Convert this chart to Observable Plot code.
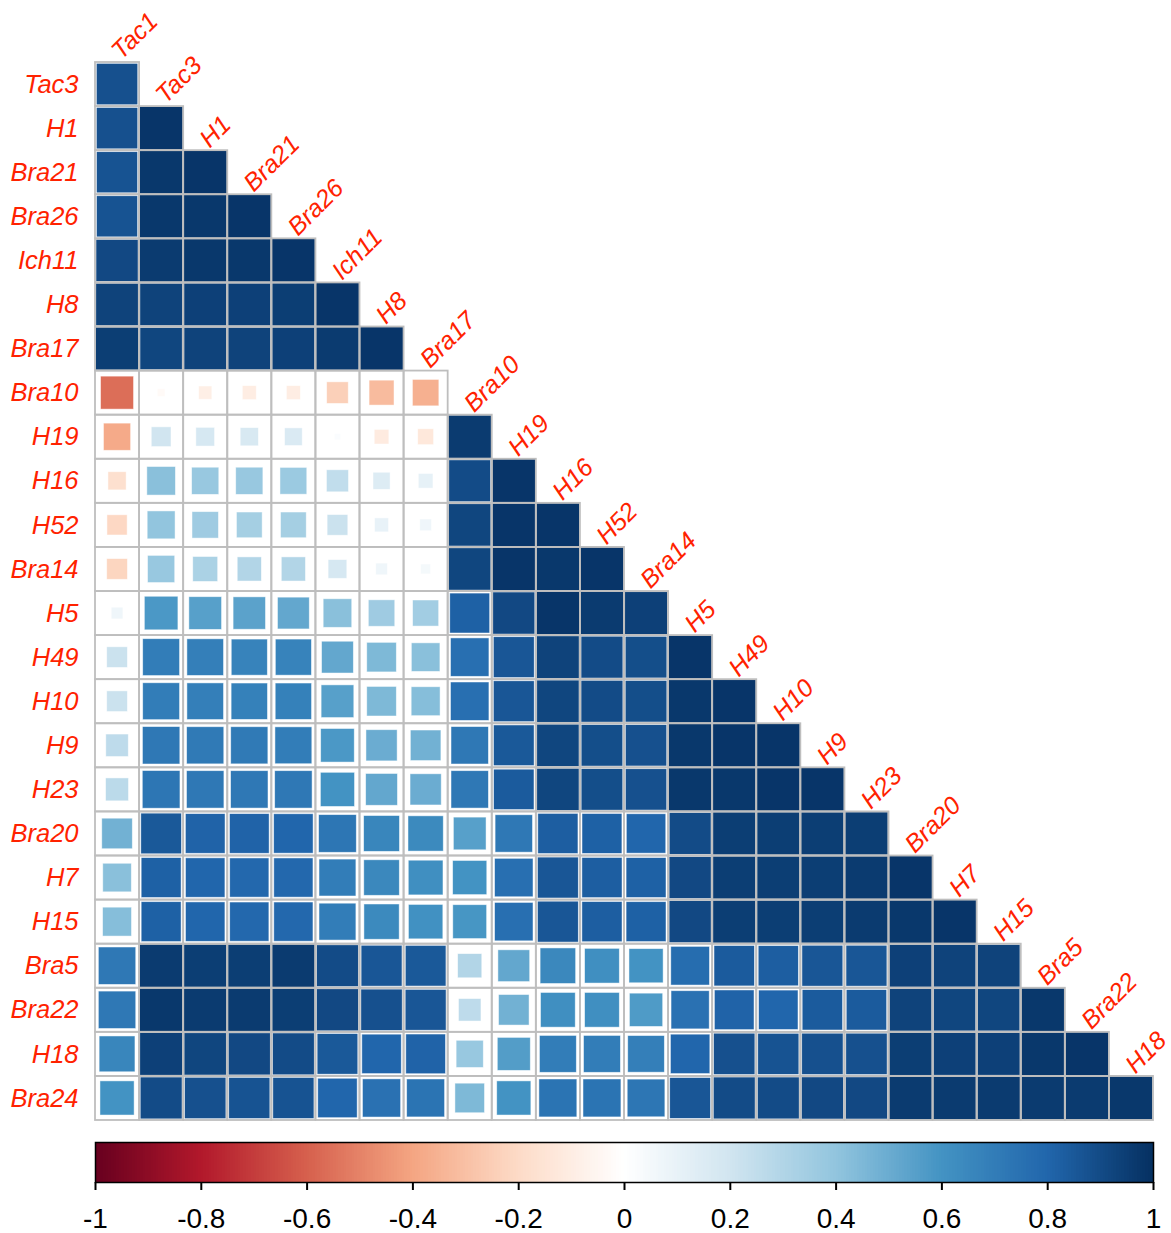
<!DOCTYPE html>
<html>
<head>
<meta charset="utf-8">
<script src="https://cdn.jsdelivr.net/npm/d3@7"></script>
<script src="https://cdn.jsdelivr.net/npm/@observablehq/plot@0.6"></script>
<style>
  html, body { margin: 0; padding: 0; background: #fff; }
  #chart { width: 1171px; }
  #chart svg { display: block; overflow: visible; }
</style>
</head>
<body>
<div id="chart"></div>
<script>
// Variables (order of the matrix)
const variables = ["Tac1","Tac3","H1","Bra21","Bra26","Ich11","H8","Bra17","Bra10","H19","H16","H52","Bra14","H5","H49","H10","H9","H23","Bra20","H7","H15","Bra5","Bra22","H18","Bra24"];

// Lower-triangle correlations: row i (variable i+1) vs columns 0..i
const corrRows = [
  [0.88],
  [0.88, 0.98],
  [0.87, 0.97, 0.98],
  [0.87, 0.97, 0.97, 0.98],
  [0.91, 0.96, 0.97, 0.97, 0.98],
  [0.93, 0.93, 0.94, 0.94, 0.95, 0.98],
  [0.95, 0.92, 0.93, 0.93, 0.94, 0.96, 0.98],
  [-0.56, -0.03, -0.09, -0.10, -0.10, -0.24, -0.32, -0.36],
  [-0.38, 0.20, 0.18, 0.17, 0.16, 0.02, -0.11, -0.13, 0.96],
  [-0.17, 0.42, 0.38, 0.38, 0.37, 0.25, 0.15, 0.11, 0.90, 0.98],
  [-0.21, 0.40, 0.36, 0.34, 0.34, 0.22, 0.10, 0.07, 0.92, 0.98, 0.98],
  [-0.22, 0.38, 0.32, 0.30, 0.30, 0.18, 0.07, 0.05, 0.92, 0.98, 0.97, 0.98],
  [0.07, 0.58, 0.55, 0.54, 0.52, 0.42, 0.36, 0.35, 0.82, 0.91, 0.98, 0.96, 0.94],
  [0.22, 0.70, 0.69, 0.67, 0.67, 0.52, 0.45, 0.42, 0.76, 0.86, 0.93, 0.90, 0.89, 0.98],
  [0.22, 0.70, 0.69, 0.68, 0.68, 0.55, 0.45, 0.43, 0.76, 0.86, 0.92, 0.90, 0.89, 0.97, 0.98],
  [0.26, 0.72, 0.71, 0.71, 0.70, 0.58, 0.50, 0.48, 0.72, 0.85, 0.92, 0.89, 0.88, 0.97, 0.98, 0.98],
  [0.27, 0.73, 0.72, 0.72, 0.72, 0.60, 0.52, 0.50, 0.72, 0.84, 0.92, 0.89, 0.88, 0.97, 0.97, 0.98, 0.98],
  [0.48, 0.85, 0.81, 0.81, 0.80, 0.73, 0.66, 0.64, 0.55, 0.72, 0.83, 0.82, 0.80, 0.90, 0.95, 0.95, 0.95, 0.95],
  [0.42, 0.82, 0.80, 0.79, 0.79, 0.70, 0.65, 0.62, 0.60, 0.76, 0.86, 0.83, 0.82, 0.91, 0.95, 0.95, 0.95, 0.96, 0.98],
  [0.43, 0.82, 0.80, 0.79, 0.79, 0.70, 0.64, 0.61, 0.59, 0.76, 0.86, 0.83, 0.82, 0.91, 0.95, 0.95, 0.95, 0.96, 0.97, 0.98],
  [0.72, 0.96, 0.95, 0.95, 0.96, 0.90, 0.86, 0.85, 0.30, 0.52, 0.65, 0.62, 0.60, 0.77, 0.84, 0.83, 0.86, 0.86, 0.94, 0.93, 0.93],
  [0.72, 0.97, 0.96, 0.96, 0.95, 0.91, 0.88, 0.86, 0.26, 0.48, 0.62, 0.62, 0.57, 0.75, 0.81, 0.80, 0.84, 0.84, 0.93, 0.92, 0.92, 0.97],
  [0.66, 0.94, 0.92, 0.91, 0.90, 0.85, 0.80, 0.81, 0.38, 0.56, 0.70, 0.70, 0.69, 0.80, 0.88, 0.87, 0.88, 0.88, 0.95, 0.94, 0.94, 0.97, 0.98],
  [0.60, 0.90, 0.88, 0.87, 0.87, 0.80, 0.75, 0.74, 0.45, 0.60, 0.74, 0.74, 0.73, 0.86, 0.90, 0.90, 0.91, 0.91, 0.96, 0.96, 0.96, 0.96, 0.96, 0.97]
];

// Colour bar ticks
const barTicks = [-1, -0.8, -0.6, -0.4, -0.2, 0, 0.2, 0.4, 0.6, 0.8, 1];
const paletteStops = [-1, -0.8, -0.6, -0.4, -0.2, 0, 0.2, 0.4, 0.6, 0.8, 1];
const paletteColors = ["#67001F","#B2182B","#D6604D","#F4A582","#FDDBC7","#FFFFFF","#D1E5F0","#92C5DE","#4393C3","#2166AC","#053061"];

const rowLabels = variables.slice(1);
const colLabels = variables.slice(0, -1);

// Build the cell table
const cells = [];
corrRows.forEach((row, p) => {
  row.forEach((v, j) => {
    cells.push({row: p, col: j, value: v, half: Math.sqrt(Math.abs(v)) / 2});
  });
});

const colorScale = {type: "linear", domain: paletteStops, range: paletteColors, interpolate: "rgb"};
const font = "'Liberation Sans', Arial, sans-serif";
const labelColor = "#ff2200";

const main = Plot.plot({
  width: 1171,
  height: 1130,
  marginLeft: 95,
  marginRight: 18,
  marginTop: 62,
  marginBottom: 10,
  x: {type: "linear", domain: [-0.5, 23.5], axis: null},
  y: {type: "linear", domain: [-0.5, 23.5], reverse: true, axis: null},
  color: colorScale,
  style: {fontFamily: font, background: "white", overflow: "visible"},
  marks: [
    Plot.rect(cells, {
      x1: d => d.col - 0.5, x2: d => d.col + 0.5,
      y1: d => d.row - 0.5, y2: d => d.row + 0.5,
      fill: "white"
    }),
    Plot.rect(cells, {
      x1: d => d.col - d.half, x2: d => d.col + d.half,
      y1: d => d.row - d.half, y2: d => d.row + d.half,
      fill: "value",
      stroke: "white",
      strokeWidth: 0.8,
      strokeOpacity: 0.6
    }),
    Plot.rect(cells, {
      x1: d => d.col - 0.5, x2: d => d.col + 0.5,
      y1: d => d.row - 0.5, y2: d => d.row + 0.5,
      fill: "none",
      stroke: "#bebebe",
      strokeWidth: 1.8
    }),
    Plot.text(rowLabels, {
      x: () => -0.5,
      y: (d, i) => i,
      text: d => d,
      textAnchor: "end",
      dx: -17,
      fontSize: 25.5,
      fontStyle: "italic",
      fill: labelColor
    }),
    Plot.text(colLabels, {
      x: (d, i) => i,
      y: (d, i) => i - 0.5,
      text: d => d,
      textAnchor: "start",
      lineAnchor: "bottom",
      rotate: -45,
      dx: 4,
      dy: -2,
      fontSize: 25,
      fontStyle: "italic",
      fill: labelColor
    })
  ]
});

// Colour bar
const barValues = d3.range(0, 400).map(i => -1 + i * 0.005);
const bar = Plot.plot({
  width: 1171,
  height: 103,
  marginLeft: 95,
  marginRight: 18,
  marginTop: 12,
  marginBottom: 51,
  x: {type: "linear", domain: [-1, 1]},
  y: {domain: [0, 1], axis: null},
  color: colorScale,
  style: {fontFamily: font, background: "white"},
  marks: [
    Plot.rectY(barValues, {
      x1: d => d,
      x2: d => Math.min(1, d + 0.009),
      y1: 0,
      y2: 1,
      fill: d => d + 0.0025,
      shapeRendering: "crispEdges"
    }),
    Plot.frame({stroke: "black", strokeWidth: 1.5}),
    Plot.axisX({
      anchor: "bottom",
      ticks: barTicks,
      tickSize: 8,
      tickPadding: 18,
      tickFormat: d => String(+d.toFixed(1)),
      fontSize: 28,
      strokeWidth: 2,
      stroke: "black",
      fill: "black",
      label: null
    })
  ]
});

const root = document.getElementById("chart");
root.appendChild(main);
root.appendChild(bar);
</script>
</body>
</html>
